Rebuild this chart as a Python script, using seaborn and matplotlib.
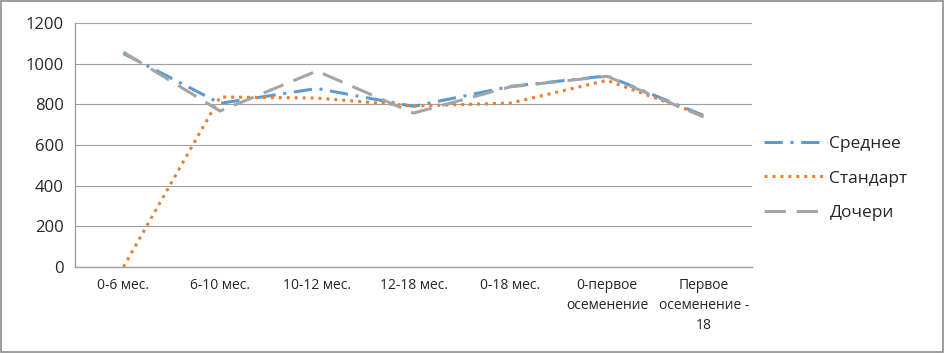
import matplotlib
matplotlib.use("Agg")
import matplotlib.pyplot as plt
import seaborn as sns
import pandas as pd
import numpy as np

categories = ["0-6 мес.", "6-10 мес.", "10-12 мес.", "12-18 мес.", "0-18 мес.",
              "0-первое\nосеменение", "Первое\nосеменение -\n18"]
srednee = [1050, 805, 878, 790, 888, 940, 745]
standart = [0, 836, 831, 792, 806, 918, 745]
docheri = [1057, 767, 964, 757, 886, 938, 738]
series_names = ["Среднее", "Стандарт", "Дочери"]
yticks = [0, 200, 400, 600, 800, 1000, 1200]

sns.set_style("white")
plt.rcParams['font.family'] = ['Open Sans', 'DejaVu Sans']

fig = plt.figure(figsize=(9.45, 3.53), dpi=100)
ax = fig.add_axes([0.0794, 0.2436, 0.7164, 0.6912])

x = np.arange(len(categories))
styles = [
    dict(color="#5B9BD5", dashes=(6, 2.5, 1, 2.5)),
    dict(color="#ED7D31", dashes=(1, 1.6)),
    dict(color="#A5A5A5", dashes=(7, 3.5)),
]
for name, vals, st in zip(series_names, [srednee, standart, docheri], styles):
    sns.lineplot(x=x, y=vals, ax=ax, label=name, color=st["color"],
                 linewidth=2.2, dashes=False)
    ax.lines[-1].set_dashes(st["dashes"])

ax.set_xlim(-0.5, len(categories) - 0.5)
ax.set_ylim(0, 1200)
ax.set_yticks(yticks)
ax.set_yticklabels([str(v) for v in yticks], fontsize=12)
ax.set_xticks(x)
ax.set_xticklabels(categories, fontsize=10, linespacing=1.45)
ax.set_xticks(np.arange(-0.5, len(categories)), minor=True)
ax.tick_params(axis="x", which="major", length=0, pad=8)
ax.tick_params(axis="x", which="minor", length=5, color="#A0A0A0", width=1)
ax.tick_params(axis="y", length=0, pad=8)
ax.grid(axis="y", color="#A0A0A0", linewidth=0.8)
for s in ["top", "right"]:
    ax.spines[s].set_visible(False)
for s in ["left", "bottom"]:
    ax.spines[s].set_color("#A0A0A0")
    ax.spines[s].set_linewidth(1)

leg = ax.legend(loc="center left", bbox_to_anchor=(0.995, 0.363), frameon=False,
                fontsize=12.5, handlelength=3.6, handletextpad=0.15, labelspacing=1.05)

fig.patches.append(plt.Rectangle((0.001, 0.002), 0.997, 0.995, transform=fig.transFigure,
                                 fill=False, edgecolor="#8C8C8C", linewidth=1.2))
fig.savefig("out.png", dpi=100)
